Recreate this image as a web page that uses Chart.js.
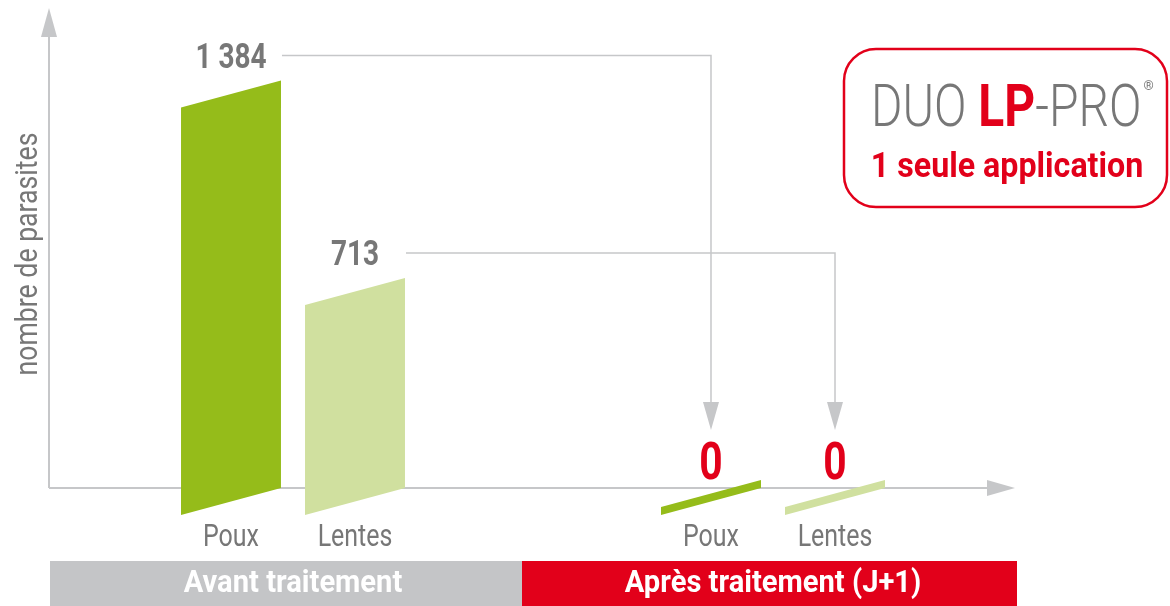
<!DOCTYPE html>
<html>
<head>
<meta charset="utf-8">
<script src="https://cdn.jsdelivr.net/npm/chart.js@4/dist/chart.umd.min.js"></script>
<style>
  html, body { margin: 0; padding: 0; background: #fff; }
  canvas { display: block; }
</style>
</head>
<body>
<canvas id="chart" width="1170" height="606"></canvas>
<script>
// données
const groupes = ["Avant traitement", "Après traitement (J+1)"];
const series = ["Poux", "Lentes"];
const poux = [1384, 0];
const lentes = [713, 0];
const yTicks = [0, 1600]; // bornes de l'axe vertical

const VERT = "#95bc1a";
const VERT_CLAIR = "#d0e09f";
const ROUGE = "#e2001a";
const GRIS_TXT = "#777777";
const GRIS_AXE = "#c6c7c9";
const PENTE = 27;      // décalage vertical des barres inclinées
const MIN_H = 8;       // épaisseur des barres à zéro
const SERRE = 0.8;     // compression horizontale (police condensée)
const FONT = "Roboto, 'Liberation Sans', sans-serif";

function texte(ctx, s, x, y, font, color, align, sx) {
    ctx.save();
    ctx.font = font;
    ctx.fillStyle = color;
    ctx.textAlign = align || "center";
    ctx.textBaseline = "alphabetic";
    ctx.translate(x, y);
    ctx.scale(sx || SERRE, 1);
    ctx.fillText(s, 0, 0);
    ctx.restore();
}

function largeur(ctx, s, font, sx) {
    ctx.save();
    ctx.font = font;
    const w = ctx.measureText(s).width * (sx || SERRE);
    ctx.restore();
    return w;
}

function flecheBas(ctx, x, yTip) {
    ctx.beginPath();
    ctx.moveTo(x, yTip);
    ctx.lineTo(x - 8, yTip - 28);
    ctx.lineTo(x + 8, yTip - 28);
    ctx.closePath();
    ctx.fill();
}

function formatNb(v) {
    return String(v).replace(/\B(?=(\d{3})+(?!\d))/g, " ");
}

// sommet (côté droit) de chaque barre
function haut(el) {
    return el.base - Math.max(el.base - el.y, MIN_H);
}

const barresInclinees = {
    id: "barresInclinees",
    beforeDatasetsDraw(chart) {
        const ctx = chart.ctx;
        const a = chart.chartArea;
        ctx.save();
        // axes avec flèches
        ctx.strokeStyle = GRIS_AXE;
        ctx.fillStyle = GRIS_AXE;
        ctx.lineWidth = 2;
        const x0 = a.left - 4;
        ctx.beginPath();
        ctx.moveTo(x0, a.bottom);
        ctx.lineTo(x0, a.top + 10);
        ctx.moveTo(x0, a.bottom);
        ctx.lineTo(a.right - 10, a.bottom);
        ctx.stroke();
        ctx.beginPath();
        ctx.moveTo(x0, a.top - 9);
        ctx.lineTo(x0 - 8, a.top + 20);
        ctx.lineTo(x0 + 8, a.top + 20);
        ctx.closePath();
        ctx.fill();
        ctx.beginPath();
        ctx.moveTo(a.right + 2, a.bottom);
        ctx.lineTo(a.right - 26, a.bottom - 8);
        ctx.lineTo(a.right - 26, a.bottom + 8);
        ctx.closePath();
        ctx.fill();

        // barres en parallélogramme
        chart.data.datasets.forEach((ds, i) => {
            chart.getDatasetMeta(i).data.forEach(el => {
                const l = el.x - el.width / 2;
                const r = el.x + el.width / 2;
                const t = haut(el);
                ctx.fillStyle = ds.backgroundColor;
                ctx.beginPath();
                ctx.moveTo(r, el.base);
                ctx.lineTo(r, t);
                ctx.lineTo(l, t + PENTE);
                ctx.lineTo(l, el.base + PENTE);
                ctx.closePath();
                ctx.fill();
            });
        });
        ctx.restore();
        return false;
    },
    afterDraw(chart) {
        const ctx = chart.ctx;
        const a = chart.chartArea;
        const xs = chart.scales.x;
        ctx.save();

        chart.data.datasets.forEach((ds, i) => {
            const els = chart.getDatasetMeta(i).data;
            // étiquettes sous les barres
            els.forEach(el => {
                texte(ctx, ds.label, el.x, a.bottom + 58, "400 32px " + FONT, GRIS_TXT, "center", 0.78);
            });
            // valeurs
            els.forEach((el, j) => {
                const v = ds.data[j];
                if (v > 0) {
                    texte(ctx, formatNb(v), el.x, haut(el) - 13, "700 35px " + FONT, GRIS_TXT);
                } else {
                    texte(ctx, "0", el.x, haut(el) - 1, "700 51px " + FONT, ROUGE);
                }
            });
            // lignes de renvoi avant -> après
            const avant = els[0], apres = els[1];
            const yl = haut(avant) - 25;
            const tip = haut(apres) - 50;
            ctx.strokeStyle = GRIS_AXE;
            ctx.fillStyle = GRIS_AXE;
            ctx.lineWidth = 1.5;
            ctx.beginPath();
            ctx.moveTo(avant.x + avant.width / 2 + 1, yl);
            ctx.lineTo(apres.x, yl);
            ctx.lineTo(apres.x, tip - 20);
            ctx.stroke();
            flecheBas(ctx, apres.x, tip);
        });

        // bandeaux des groupes
        const c0 = xs.getPixelForValue(0), c1 = xs.getPixelForValue(1);
        const split = (c0 + c1) / 2 - 11;
        const yb = a.bottom + 73;
        ctx.fillStyle = "#c4c5c7";
        ctx.fillRect(a.left - 3, yb, split - (a.left - 3), chart.height - yb);
        ctx.fillStyle = ROUGE;
        ctx.fillRect(split, yb, a.right + 4 - split, chart.height - yb);
        groupes.forEach((g, k) => {
            texte(ctx, g, xs.getPixelForValue(k), yb + 31, "700 31px " + FONT, "#fff", "center", 0.94);
        });

        // titre axe vertical
        ctx.save();
        ctx.translate(37, 254);
        ctx.rotate(-Math.PI / 2);
        texte(ctx, "nombre de parasites", 0, 0, "400 31px " + FONT, GRIS_TXT, "center", 0.86);
        ctx.restore();

        // cartouche DUO LP-PRO
        ctx.strokeStyle = ROUGE;
        ctx.lineWidth = 2.5;
        ctx.beginPath();
        ctx.roundRect(844, 49, 323, 158, 32);
        ctx.stroke();
        const fL = "300 60px " + FONT, fB = "700 60px " + FONT;
        let x = 871;
        const yt = 126;
        const sxT = 0.8;
        texte(ctx, "DUO ", x, yt, fL, GRIS_TXT, "left", sxT);
        x += largeur(ctx, "DUO ", fL, sxT);
        texte(ctx, "LP", x, yt, fB, ROUGE, "left", sxT);
        x += largeur(ctx, "LP", fB, sxT);
        texte(ctx, "-PRO", x, yt, fL, GRIS_TXT, "left", sxT);
        x += largeur(ctx, "-PRO", fL, sxT);
        texte(ctx, "®", x + 2, 90, "400 13px " + FONT, GRIS_TXT, "left", 1);
        texte(ctx, "1 seule application", 1007, 177, "700 35px " + FONT, ROUGE, "center", 0.92);

        ctx.restore();
    }
};

new Chart(document.getElementById("chart"), {
    type: "bar",
    data: {
        labels: groupes,
        datasets: [
            { label: series[0], data: poux, backgroundColor: VERT },
            { label: series[1], data: lentes, backgroundColor: VERT_CLAIR }
        ]
    },
    options: {
        responsive: false,
        animation: false,
        layout: { padding: { left: 53, right: 157, top: 17, bottom: 118 } },
        datasets: { bar: { categoryPercentage: 0.5167, barPercentage: 0.806 } },
        scales: {
            x: { display: false },
            y: { display: false, min: yTicks[0], max: yTicks[1] }
        },
        plugins: { legend: { display: false }, tooltip: { enabled: false } }
    },
    plugins: [barresInclinees]
});
</script>
</body>
</html>
